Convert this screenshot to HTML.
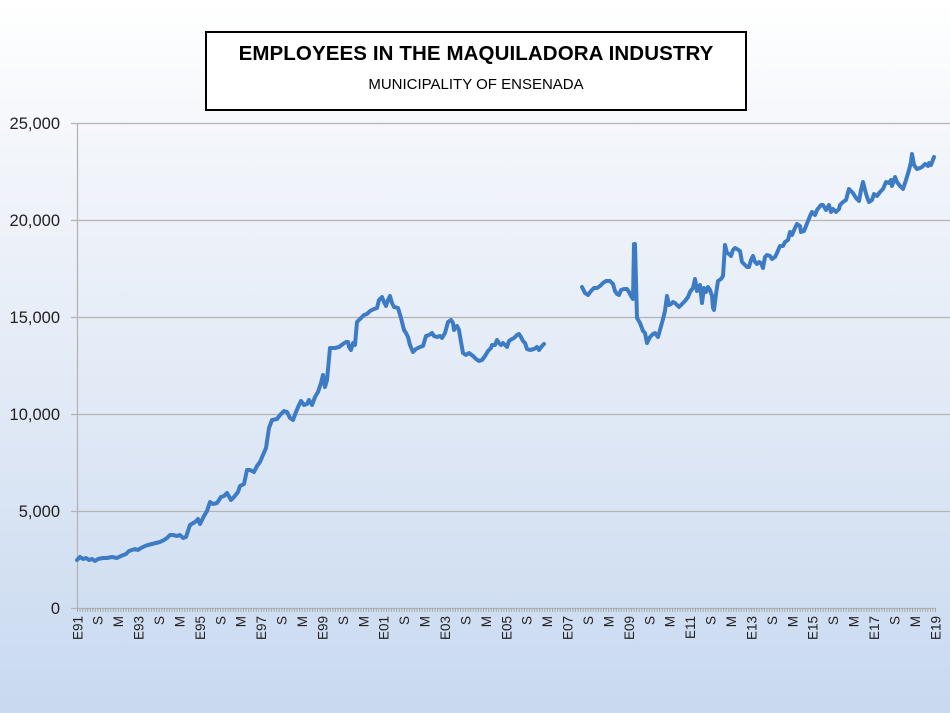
<!DOCTYPE html>
<html><head><meta charset="utf-8">
<style>
html,body{margin:0;padding:0}
body{width:950px;height:713px;overflow:hidden;background:linear-gradient(to bottom,#ffffff 0%,#f3f6fb 20%,#dfe8f5 60%,#c8d9f0 100%);font-family:"Liberation Sans",sans-serif;position:relative}
#title{position:absolute;left:205px;top:31px;width:538px;height:76px;border:2px solid #000;background:#fff;text-align:center}
#title .t{font-weight:bold;font-size:20.5px;margin-top:9px;letter-spacing:0.1px}
#title .s{font-size:15px;margin-top:10px}
svg{position:absolute;left:0;top:0}
</style></head><body>
<svg id="c" width="950" height="713" xmlns="http://www.w3.org/2000/svg">
<g stroke="#b4b4b4" stroke-width="1.3">
<line x1="71" y1="123.5" x2="950" y2="123.5"/>
<line x1="71" y1="220.5" x2="950" y2="220.5"/>
<line x1="71" y1="317.5" x2="950" y2="317.5"/>
<line x1="71" y1="414.5" x2="950" y2="414.5"/>
<line x1="71" y1="511.5" x2="950" y2="511.5"/>
<line x1="71" y1="608.5" x2="936" y2="608.5"/>
<line x1="77.5" y1="123" x2="77.5" y2="608"/>
</g>
<g font-size="16.5" fill="#222" text-anchor="end" font-family="Liberation Sans, sans-serif">
<text x="60" y="129">25,000</text>
<text x="60" y="226">20,000</text>
<text x="60" y="323">15,000</text>
<text x="60" y="420">10,000</text>
<text x="60" y="517">5,000</text>
<text x="60" y="614">0</text>
</g>
<g id="ticks" stroke="#a8a8a8" stroke-width="1"></g>
<g id="lbl" font-size="13.5" fill="#222" font-family="Liberation Sans, sans-serif"></g>
<g fill="none" stroke="#3d7cc4" stroke-width="4" stroke-linejoin="round" stroke-linecap="round">
<polyline points="77,560 80,557 83,559 86,558 89,560 92,559 95,561 98,559 103,558 107,558 112,557 117,558 121,556 126,554 129,551 132,550 135,549 138,550 141,548 145,546 148,545 152,544 156,543 160,542 164,540 167,538 170,535 173,535 177,536 180,535 183,538 186,537 190,525 195,522 198,519 200,524 204,516 207,511 210,502 213,504 217,503 221,497 224,496 227,493 231,500 234,497 238,492 240,486 244,484 247,470 250,470 254,472 257,466 260,462 263,455 266,448 269,428 272,420 277,419 280,415 284,411 287,412 290,418 293,420 296,412 299,405 301,401 304,405 307,404 309,400 312,405 315,397 318,392 321,383 323,375 325,387 327,380 330,348 335,348 339,347 343,344 346,342 348,342 349,347 351,350 353,343 355,345 357,322 361,318 364,315 367,314 370,311 374,309 377,308 379,300 382,297 384,302 386,306 388,300 390,296 392,303 394,307 398,308 401,318 404,330 406,333 408,337 410,345 413,352 416,349 420,347 423,346 426,336 429,335 432,333 434,336 437,337 440,336 442,338 445,333 448,322 451,320 453,323 454,330 457,326 459,330 461,342 463,353 466,355 469,353 473,356 476,359 479,361 482,360 485,356 488,351 491,348 492,345 495,345 497,340 499,343 501,345 503,343 505,345 507,347 509,341 512,339 514,338 517,335 519,334 521,337 523,341 525,343 527,349 530,350 534,349 537,347 539,350 542,346 544,344"/>
<polyline points="582,287 585,293 588,295 591,291 594,288 597,288 600,286 603,283 606,281 610,281 613,284 615,291 617,294 619,295 621,290 624,289 627,289 629,292 631,296 633,299 634,244 635,244 637,318 640,323 643,331 645,333 647,343 650,337 653,334 655,333 658,337 660,330 663,319 665,311 667,296 669,305 671,304 673,302 675,303 679,307 682,304 685,301 688,297 690,292 693,288 695,279 697,291 700,285 702,303 704,288 706,292 708,287 710,290 712,296 713,308 714,310 716,294 718,281 721,279 723,276 725,245 727,253 729,254 731,256 733,250 735,248 737,249 740,251 742,262 745,265 747,267 749,267 751,260 753,256 755,262 757,264 759,262 761,263 763,268 765,257 767,255 770,256 772,259 775,257 777,253 780,246 783,246 785,242 788,240 790,232 792,235 795,228 797,224 800,226 801,232 804,231 806,226 810,216 812,212 815,215 817,210 821,205 823,205 826,210 829,205 831,212 833,209 836,212 839,209 840,205 843,202 846,200 849,189 853,193 856,198 859,201 861,190 863,182 865,190 867,197 869,202 872,200 874,194 877,196 880,192 883,189 886,182 889,183 891,180 892,186 895,177 897,182 900,186 903,189 906,180 909,170 911,162 912,154 914,165 917,169 920,168 922,167 925,164 928,166 929,163 931,165 934,157"/>
</g>
</svg>
<div id="title"><div class="t">EMPLOYEES IN THE MAQUILADORA INDUSTRY</div><div class="s">MUNICIPALITY OF ENSENADA</div></div>
<script>
var NS="http://www.w3.org/2000/svg";
var t=document.getElementById("ticks"),l=document.getElementById("lbl");
var x0=77.5,step=858/336;
for(var i=0;i<=336;i++){var x=x0+i*step;var e=document.createElementNS(NS,"line");e.setAttribute("x1",x.toFixed(1));e.setAttribute("x2",x.toFixed(1));e.setAttribute("y1",608);e.setAttribute("y2",612);t.appendChild(e);}
for(var k=0;k<=42;k++){var m=k*8;var yr=1991+Math.floor(m/12);var mo=m%12;var s;
if(mo==0)s="E"+String(yr%100).padStart(2,"0");else if(mo==8)s="S";else s="M";
var x=x0+m*step+4.8;var e=document.createElementNS(NS,"text");e.setAttribute("transform","translate("+x.toFixed(1)+",616) rotate(-90)");e.setAttribute("text-anchor","end");e.textContent=s;l.appendChild(e);}
</script>
</body></html>
